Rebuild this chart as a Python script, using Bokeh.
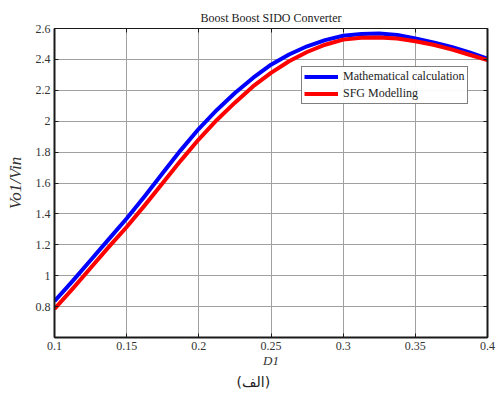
from bokeh.plotting import figure
from bokeh.models import (LinearAxis, Legend, LegendItem, Title, Range1d,
                          FixedTicker, CustomJSTickFormatter)
from bokeh.embed import file_html
from bokeh.resources import INLINE

# Duty cycle D1 and normalised output voltage Vo1/Vin
d1 = [0.1, 0.1125, 0.125, 0.1375, 0.15, 0.1625, 0.175, 0.1875, 0.2, 0.2125,
      0.225, 0.2375, 0.25, 0.2625, 0.275, 0.2875, 0.3, 0.3125, 0.325, 0.3375,
      0.35, 0.3625, 0.375, 0.3875, 0.4]
math_calc = [0.835, 0.965, 1.10, 1.235, 1.37, 1.515, 1.665, 1.813, 1.951, 2.073,
             2.182, 2.28, 2.366, 2.432, 2.485, 2.525, 2.553, 2.565, 2.568, 2.558,
             2.535, 2.51, 2.48, 2.445, 2.405]
sfg_model = [0.785, 0.915, 1.05, 1.185, 1.315, 1.455, 1.60, 1.745, 1.883, 2.008,
             2.12, 2.225, 2.313, 2.388, 2.448, 2.495, 2.528, 2.54, 2.542, 2.535,
             2.518, 2.495, 2.465, 2.43, 2.395]
x_ticks = [0.1, 0.15, 0.2, 0.25, 0.3, 0.35, 0.4]
y_ticks = [0.8, 1.0, 1.2, 1.4, 1.6, 1.8, 2.0, 2.2, 2.4, 2.6]
y_tick_labels = {0.8: "0.8", 1.0: "1", 1.2: "1.2", 1.4: "1.4", 1.6: "1.6",
                 1.8: "1.8", 2.0: "2", 2.2: "2.2", 2.4: "2.4", 2.6: "2.6"}
x_tick_labels = {0.1: "0.1", 0.15: "0.15", 0.2: "0.2", 0.25: "0.25",
                 0.3: "0.3", 0.35: "0.35", 0.4: "0.4"}

SERIF = "Liberation Serif"

p = figure(width=498, height=402, output_backend="svg", toolbar_location=None,
           x_range=Range1d(0.1, 0.4), y_range=Range1d(0.6, 2.6),
           min_border_left=54, min_border_right=11, min_border_top=28,
           min_border_bottom=65, x_axis_label="D1", y_axis_label="Vo1/Vin")

p.title.text = "Boost Boost SIDO Converter"
p.title.align = "center"
p.title.text_font = SERIF
p.title.text_font_size = "12px"
p.title.text_font_style = "normal"
p.title.text_color = "#222222"
p.title.offset = 0
p.title.standoff = 8

p.outline_line_color = "black"
p.outline_line_width = 1

for g in (p.xgrid[0], p.ygrid[0]):
    g.grid_line_color = "#a0a0a0"
    g.grid_line_width = 1
p.xgrid[0].ticker = FixedTicker(ticks=x_ticks)
p.ygrid[0].ticker = FixedTicker(ticks=y_ticks)

def style_axis(ax, ticks, width=2):
    ax.ticker = FixedTicker(ticks=ticks)
    ax.major_tick_in = 4
    ax.major_tick_out = 0
    ax.minor_tick_in = 0
    ax.minor_tick_out = 0
    ax.axis_line_color = "#1a1a1a"
    ax.axis_line_width = width
    ax.major_tick_line_color = "#1a1a1a"
    ax.major_label_text_font = SERIF
    ax.major_label_text_font_size = "12px"
    ax.major_label_text_color = "#333333"

style_axis(p.xaxis[0], x_ticks)
style_axis(p.yaxis[0], y_ticks)
p.xaxis[0].major_label_overrides = x_tick_labels
p.yaxis[0].major_label_overrides = y_tick_labels
p.xaxis[0].major_label_standoff = 4
p.yaxis[0].major_label_standoff = 4

p.xaxis[0].axis_label_text_font = SERIF
p.xaxis[0].axis_label_text_font_style = "italic"
p.xaxis[0].axis_label_text_font_size = "13px"
p.xaxis[0].axis_label_text_color = "#333333"
p.xaxis[0].axis_label_standoff = 0
p.yaxis[0].axis_label_text_font = SERIF
p.yaxis[0].axis_label_text_font_style = "italic"
p.yaxis[0].axis_label_text_font_size = "17px"
p.yaxis[0].axis_label_text_color = "#333333"
p.yaxis[0].axis_label_standoff = 8

# Frame axes on the top and right: tick marks only
blank = CustomJSTickFormatter(code="return '';")
top_axis = LinearAxis(formatter=blank, major_label_standoff=0)
style_axis(top_axis, x_ticks, width=1)
p.add_layout(top_axis, "above")
right_axis = LinearAxis(formatter=blank, major_label_standoff=0)
style_axis(right_axis, y_ticks, width=2)
p.add_layout(right_axis, "right")

r_math = p.line(d1, math_calc, line_color="#0000ff", line_width=4,
                line_join="round")
r_sfg = p.line(d1, sfg_model, line_color="#ff0000", line_width=4,
               line_join="round")

legend = Legend(items=[LegendItem(label="Mathematical calculation", renderers=[r_math]),
                       LegendItem(label="SFG Modelling", renderers=[r_sfg])],
                location=(247, 233), glyph_width=34, glyph_height=15,
                label_height=15, spacing=2, padding=2, margin=0,
                label_standoff=5, border_line_color="black",
                border_line_width=1, label_text_font=SERIF,
                label_text_font_size="12px", label_text_color="#222222")
p.add_layout(legend, "center")

# Figure caption under the x-axis label
caption = Title(text="(الف)", align="left", offset=182, standoff=2,
                text_font="DejaVu Sans", text_font_size="14px",
                text_font_style="normal", text_color="#222222")
p.add_layout(caption, "below")

open("out.html", "w").write(file_html(p, INLINE))
